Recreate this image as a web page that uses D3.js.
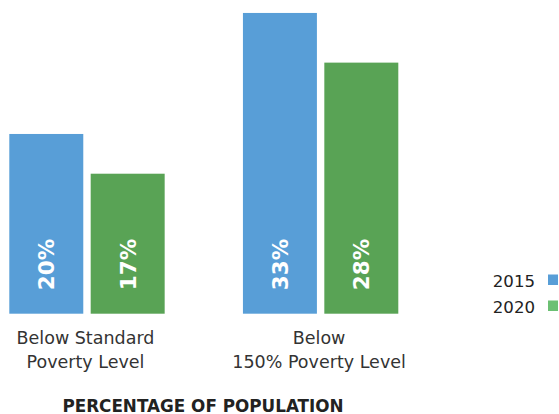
<!DOCTYPE html>
<html>
<head>
<meta charset="utf-8">
<script src="https://cdn.jsdelivr.net/npm/d3@7"></script>
<style>
  html, body { margin: 0; padding: 0; background: #fff; }
  svg { display: block; }
</style>
</head>
<body>
<svg id="chart" width="559" height="414"></svg>
<script>
// ---- data ----
const categories = ["Below Standard|Poverty Level", "Below|150% Poverty Level"];
const seriesNames = ["2015", "2020"];
const values2015 = [19.9, 33.3];
const values2020 = [15.5, 27.8];
const labels2015 = ["20%", "33%"];
const labels2020 = ["17%", "28%"];
const chartTitle = "PERCENTAGE OF POPULATION";

const barColors = ["#589ed7", "#59a355"];
const legendColors = ["#589ed7", "#6cc073"];

const svg = d3.select("#chart");
const font = "'DejaVu Sans', sans-serif";

const rows = categories.map((c, i) => ({
  cat: c,
  vals: [
    { s: seriesNames[0], v: values2015[i], label: labels2015[i] },
    { s: seriesNames[1], v: values2020[i], label: labels2020[i] }
  ]
}));

const x0 = d3.scaleBand().domain(categories).range([9.3, 398.3]).paddingInner(0.335).paddingOuter(0);
const x1 = d3.scaleBand().domain(seriesNames).range([0, x0.bandwidth()]).paddingInner(0.091).paddingOuter(0);
const y = d3.scaleLinear().domain([0, 35]).range([313.7, -2.4]);
const color = d3.scaleOrdinal().domain(seriesNames).range(barColors);
const legendColor = d3.scaleOrdinal().domain(seriesNames).range(legendColors);

const groups = svg.selectAll("g.grp").data(rows).join("g")
  .attr("class", "grp")
  .attr("transform", d => `translate(${x0(d.cat)},0)`);

groups.selectAll("rect").data(d => d.vals).join("rect")
  .attr("x", d => x1(d.s))
  .attr("y", d => y(d.v))
  .attr("width", x1.bandwidth())
  .attr("height", d => y(0) - y(d.v))
  .attr("fill", d => color(d.s));

groups.selectAll("text.val").data(d => d.vals).join("text")
  .attr("class", "val")
  .attr("transform", d => `translate(${x1(d.s) + x1.bandwidth() / 2 + 8},${y(0) - 23.5}) rotate(-90)`)
  .attr("text-anchor", "start")
  .attr("font-family", font)
  .attr("font-weight", "bold")
  .attr("font-size", 21.5)
  .attr("fill", "#fff")
  .text(d => d.label);

// category labels
const catText = svg.selectAll("text.cat").data(categories).join("text")
  .attr("class", "cat")
  .attr("text-anchor", "middle")
  .attr("font-family", font)
  .attr("font-size", 17.5)
  .attr("fill", "#333");
catText.each(function(d) {
  const parts = d.split("|");
  const cx = x0(d) + x0.bandwidth() / 2 - 1.5;
  d3.select(this).selectAll("tspan").data(parts).join("tspan")
    .attr("x", cx)
    .attr("y", (p, i) => 344 + i * 24)
    .text(p => p);
});

// title
svg.append("text")
  .attr("x", 203)
  .attr("y", 411.5)
  .attr("text-anchor", "middle")
  .attr("font-family", font)
  .attr("font-weight", "bold")
  .attr("font-size", 16.8)
  .attr("fill", "#222")
  .text(chartTitle);

// legend
const legend = svg.selectAll("g.leg").data(seriesNames).join("g")
  .attr("class", "leg")
  .attr("transform", (d, i) => `translate(0,${i * 26})`);
legend.append("text")
  .attr("x", 535)
  .attr("y", 286.7)
  .attr("text-anchor", "end")
  .attr("font-family", font)
  .attr("font-size", 16.6)
  .attr("fill", "#222")
  .text(d => d);
legend.append("rect")
  .attr("x", 548)
  .attr("y", 274.5)
  .attr("width", 10)
  .attr("height", 10.5)
  .attr("fill", d => legendColor(d));
</script>
</body>
</html>
